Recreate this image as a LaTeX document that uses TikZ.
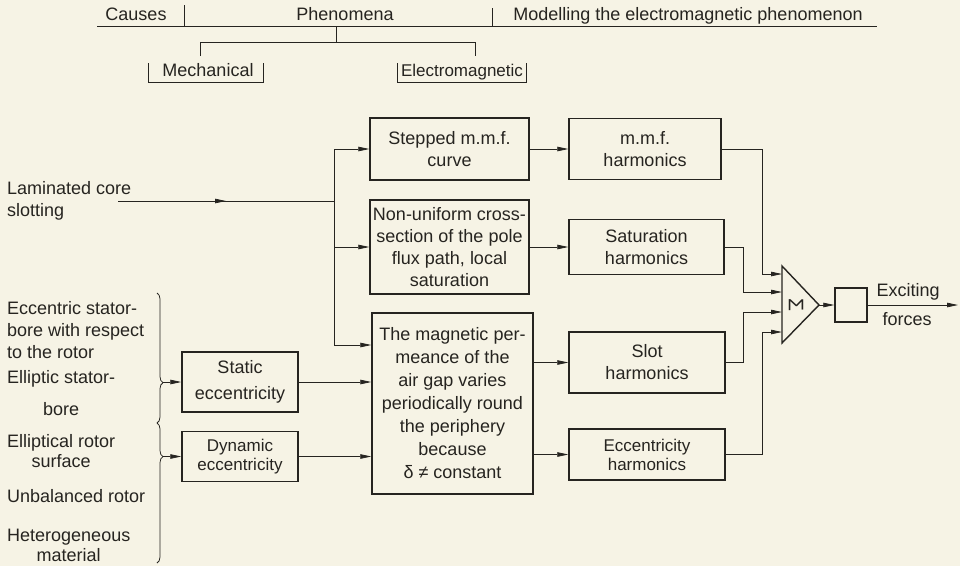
\documentclass[tikz,border=0pt]{standalone}
\usepackage{fontspec}
\setmainfont{Liberation Sans}
\usetikzlibrary{arrows.meta,decorations.pathreplacing,decorations.markings,positioning}
\definecolor{paper}{RGB}{246,243,229}
\definecolor{ink}{RGB}{38,36,32}
\newcommand\LabelFont{\fontsize{18}{22}\selectfont}
\tikzset{
  frame/.style={
    draw = ink,
    line width = 1.4pt
  },
  block/.style={
    frame,
    shape = rectangle,
    align = center,
    inner sep = 0pt,
    text = ink,
    font = \LabelFont
  },
  txt/.style={
    inner sep = 0pt,
    text = ink,
    font = \LabelFont
  },
  wire/.style={
    draw = ink,
    line width = 0.75pt
  },
  arr/.style={
    wire,
    -{Triangle[length=11pt,width=4.5pt]}
  },
  midarr/.style={
    wire,
    postaction = {decorate},
    decoration = {markings, mark=at position 0.5 with {\arrow{Triangle[length=11pt,width=4.5pt]}}}
  },
  grp/.style={
    decorate,
    decoration = {brace, amplitude=6pt, aspect=#1}
  }
}

\begin{document}
\begin{tikzpicture}[x=1pt,y=-1pt]
    \useasboundingbox (0,0) rectangle (960,566);
    \fill[paper] (0,0) rectangle (960,566);

    % heading
    \node[txt,anchor=base] (causes) at (136,20) {Causes};
    \node[txt,anchor=base] (phen) at (345,20) {Phenomena};
    \node[txt,anchor=base] (model) at (688,20) {Modelling the electromagnetic phenomenon};
    \node[txt,anchor=base] (mech) at (208,76) {Mechanical};
    \node[txt,anchor=base,font=\fontsize{17}{22}\selectfont] (elmag) at (462,76) {Electromagnetic};
    \draw[wire] (97,26) -- (877,26);
    \draw[wire] (184,5) -- (184,26);
    \draw[wire] (492,8) -- (492,26);
    \draw[wire] (336,26) -- (336,42);
    \draw[wire] (200,56) -- (200,42) -- (475,42) -- (475,56);
    \draw[wire] (148,63) -- (148,82) -- (263,82) -- (263,63);
    \draw[wire] (397,63) -- (397,82) -- (526,82) -- (526,63);

    % causes
    \node[txt,anchor=west,align=left] (lamin) at (7,201) {Laminated core\\slotting};
    \node[txt,anchor=west,align=left] (eccbore) at (7,330) {Eccentric stator-\\bore with respect\\to the rotor};
    \node[txt,anchor=west,align=center] (ellbore) at (7,393) {Elliptic stator-\\[10pt]bore};
    \node[txt,anchor=west,align=center] (ellrot) at (7,451) {Elliptical rotor\\[-2pt]surface};
    \node[txt,anchor=west] (unbal) at (7,496) {Unbalanced rotor};
    \node[txt,anchor=west,align=center] (hetero) at (7,545) {Heterogeneous\\[-2pt]material};
    \draw[wire, grp=0.69] (157,293) -- (157,423);
    \draw[wire, grp=0.24] (157,423) -- (157,563);
    \coordinate (tipA) at (163,382);
    \coordinate (tipB) at (163,456.5);

    % phenomena
    \node[block, minimum width=116, minimum height=60, font=\fontsize{18}{26}\selectfont] (static) at (240,382) {Static\\eccentricity};
    \node[block, minimum width=116, minimum height=50, font=\fontsize{17}{19}\selectfont] (dynamic) at (240,456.5) {Dynamic\\eccentricity};
    \node[block, minimum width=159, minimum height=62] (stepped) at (449.5,149) {Stepped m.m.f.\\curve};
    \node[block, minimum width=159, minimum height=94] (nonunif) at (449.5,247) {Non-uniform cross-\\section of the pole\\flux path, local\\saturation};
    \node[block, minimum width=161, minimum height=181, font=\fontsize{18}{23}\selectfont] (perm) at (452.5,403.5) {The magnetic per-\\meance of the\\air gap varies\\periodically round\\the periphery\\because\\δ ≠ constant};

    % harmonics
    \node[block, minimum width=152, minimum height=61] (mmf) at (645,149) {m.m.f.\\harmonics};
    \node[block, minimum width=155, minimum height=55] (satur) at (646.5,247) {Saturation\\harmonics};
    \node[block, minimum width=156, minimum height=61] (slot) at (647,362.5) {Slot\\harmonics};
    \node[block, minimum width=156, minimum height=51, font=\fontsize{17}{19}\selectfont] (eccharm) at (647,454.5) {Eccentricity\\harmonics};

    % bus
    \coordinate (lam) at (118,201);
    \coordinate (bustop) at (334,149);
    \coordinate (busmid) at (334,247);
    \coordinate (busbot) at (334,345);
    \draw[midarr] (lam) -- (lam -| bustop);
    \draw[wire] (bustop) -- (busbot);
    \draw[arr] (bustop) -- (stepped);
    \draw[arr] (busmid) -- (nonunif);
    \draw[arr] (busbot) -- (busbot -| perm.west);

    \draw[arr] (tipA) -- (static);
    \draw[arr] (tipB) -- (dynamic);
    \draw[arr] (static) -- (static -| perm.west);
    \draw[arr] (dynamic) -- (dynamic -| perm.west);

    \draw[arr] (stepped) -- (mmf);
    \draw[arr] (nonunif) -- (satur);
    \draw[arr] (perm.east |- slot) -- (slot);
    \draw[arr] (perm.east |- eccharm) -- (eccharm);

    % summing point
    \coordinate (sa) at (782,266);
    \coordinate (sb) at (782,343);
    \coordinate (sumtip) at (819,305);
    \draw[frame, line join=miter] (sa) -- (sumtip) -- (sb) -- cycle;
    \node[txt, rotate=-90, font=\fontsize{21}{21}\selectfont] (sigma) at (796,305) {Σ};
    \foreach \y/\name in {274/inA, 292/inB, 312/inC, 332/inD}
        \coordinate (\name) at (782,\y);
    \draw[arr] (mmf) -| ([xshift=-20pt]inA) -- (inA);
    \draw[arr] (satur) -| ([xshift=-39pt]inB) -- (inB);
    \draw[arr] (slot) -| ([xshift=-39pt]inC) -- (inC);
    \draw[arr] (eccharm) -| ([xshift=-20pt]inD) -- (inD);

    % output
    \node[frame, minimum width=32, minimum height=34, inner sep=0pt] (outbox) at (851,305) {};
    \coordinate (out) at (958,305);
    \draw[arr] (sumtip) -- (outbox);
    \draw[arr] (outbox) -- (out);
    \node[txt,anchor=base] (exc) at (908,296) {Exciting};
    \node[txt,anchor=base] (forc) at (907,325) {forces};
\end{tikzpicture}
\end{document}
